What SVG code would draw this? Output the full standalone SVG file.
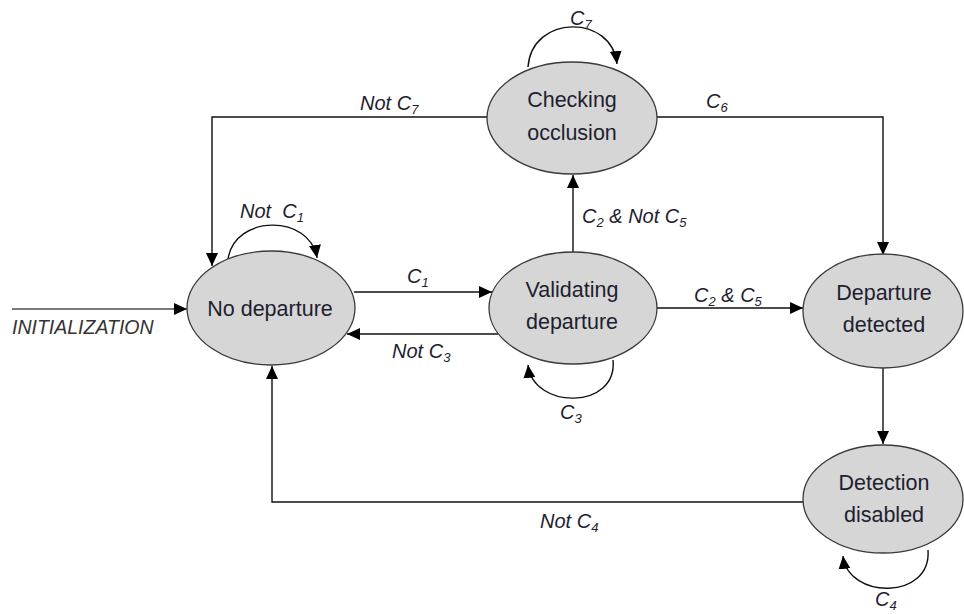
<svg xmlns="http://www.w3.org/2000/svg" width="964" height="614" viewBox="0 0 964 614">
<style>
.node ellipse{fill:#d6d6d6;stroke:#3a3a3a;stroke-width:1.3}
.nt{font-family:"Liberation Sans",Arial,sans-serif;font-size:21.5px;fill:#1e1e30;text-anchor:middle}
.el{font-family:"Liberation Sans",Arial,sans-serif;font-size:20px;font-style:italic;fill:#1e1e30}
.sub{font-size:13px}
.c path,.c line{fill:none;stroke:#111;stroke-width:1.4}
</style>
<defs>
<marker id="ah" markerUnits="userSpaceOnUse" markerWidth="14" markerHeight="12" refX="13" refY="6" orient="auto">
<path d="M0,0 L13,6 L0,12 z" fill="#000"/>
</marker>
</defs>
<rect width="964" height="614" fill="#fff"/>
<g class="c" id="connectors">
<line x1="12" y1="309" x2="187" y2="309" style="stroke:#7a7a7a;stroke-width:2.2" marker-end="url(#ah)"/>
<path d="M487,117 H212 V266" marker-end="url(#ah)"/>
<path d="M656,117 H883 V255" marker-end="url(#ah)"/>
<path d="M228,259 C235,214 310,214 317,258" marker-end="url(#ah)"/>
<path d="M354,292 H492" marker-end="url(#ah)"/>
<path d="M498,334 H347" marker-end="url(#ah)"/>
<path d="M573,252 V175" marker-end="url(#ah)"/>
<path d="M657,308 H803" marker-end="url(#ah)"/>
<path d="M613,360 C618,410 533,410 528,365" marker-end="url(#ah)"/>
<path d="M883,368 V444" marker-end="url(#ah)"/>
<path d="M928,550 C932,600 848,600 843,556" marker-end="url(#ah)"/>
<path d="M803,502 H272 V366" marker-end="url(#ah)"/>
<path d="M528,67 C532,14 612,14 617,64" marker-end="url(#ah)"/>
</g>
<g id="checking" class="node">
<ellipse cx="572" cy="118" rx="85" ry="56"/>
<text class="nt" x="572" y="107">Checking</text>
<text class="nt" x="572" y="140">occlusion</text>
</g>
<g id="nodeparture" class="node">
<ellipse cx="271" cy="308" rx="84" ry="57"/>
<text class="nt" x="270" y="316">No departure</text>
</g>
<g id="validating" class="node">
<ellipse cx="573" cy="308" rx="84" ry="56"/>
<text class="nt" x="572" y="297">Validating</text>
<text class="nt" x="572" y="329">departure</text>
</g>
<g id="detected" class="node">
<ellipse cx="883" cy="311" rx="80" ry="57"/>
<text class="nt" x="884" y="300">Departure</text>
<text class="nt" x="884" y="332">detected</text>
</g>
<g id="disabled" class="node">
<ellipse cx="883" cy="499" rx="80" ry="54"/>
<text class="nt" x="884" y="490">Detection</text>
<text class="nt" x="884" y="522">disabled</text>
</g>
<g id="labels">
<text class="el" x="12" y="334" style="fill:#333;font-size:19.5px">INITIALIZATION</text>
<text class="el" x="570" y="25">C<tspan class="sub" dy="4">7</tspan></text>
<text class="el" x="360" y="110">Not C<tspan class="sub" dy="4">7</tspan></text>
<text class="el" x="706" y="108">C<tspan class="sub" dy="4">6</tspan></text>
<text class="el" x="240" y="218" xml:space="preserve">Not  C<tspan class="sub" dy="4">1</tspan></text>
<text class="el" x="407" y="283">C<tspan class="sub" dy="4">1</tspan></text>
<text class="el" x="392" y="358">Not C<tspan class="sub" dy="4">3</tspan></text>
<text class="el" x="582" y="223">C<tspan class="sub" dy="4">2</tspan><tspan dy="-4"> &amp; Not C</tspan><tspan class="sub" dy="4">5</tspan></text>
<text class="el" x="694" y="302">C<tspan class="sub" dy="4">2</tspan><tspan dy="-4"> &amp; C</tspan><tspan class="sub" dy="4">5</tspan></text>
<text class="el" x="560" y="419">C<tspan class="sub" dy="4">3</tspan></text>
<text class="el" x="540" y="528">Not C<tspan class="sub" dy="4">4</tspan></text>
<text class="el" x="875" y="606">C<tspan class="sub" dy="4">4</tspan></text>
</g>
</svg>
